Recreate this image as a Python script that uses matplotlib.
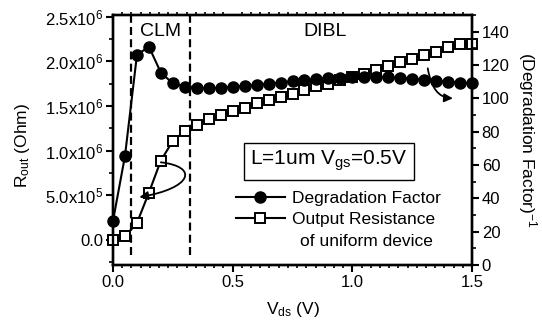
import numpy as np
import matplotlib
matplotlib.use("Agg")
import matplotlib.pyplot as plt
from matplotlib.patches import FancyArrowPatch
from matplotlib.path import Path
from matplotlib.lines import Line2D
from matplotlib.ticker import MultipleLocator

plt.rcParams['font.family'] = ['Liberation Sans', 'DejaVu Sans']
plt.rcParams['mathtext.fontset'] = 'custom'
plt.rcParams['mathtext.rm'] = 'Liberation Sans'
plt.rcParams['mathtext.it'] = 'Liberation Sans:italic'
plt.rcParams['mathtext.bf'] = 'Liberation Sans:bold'

# ---- data ----
vds = [0.0, 0.05, 0.10, 0.15, 0.20, 0.25, 0.30, 0.35, 0.40, 0.45, 0.50,
       0.55, 0.60, 0.65, 0.70, 0.75, 0.80, 0.85, 0.90, 0.95, 1.00,
       1.05, 1.10, 1.15, 1.20, 1.25, 1.30, 1.35, 1.40, 1.45, 1.50]
degradation = [26.5, 65.4, 126.0, 131.0, 115.4, 109.0, 107.0, 106.3, 106.0, 106.2, 106.8,
               107.4, 108.0, 108.8, 109.4, 110.3, 111.0, 111.6, 112.1, 112.4, 112.6,
               112.8, 112.8, 112.6, 112.2, 111.8, 111.2, 110.6, 110.0, 109.5, 109.0]
rout = [0.0, 0.04e6, 0.19e6, 0.53e6, 0.89e6, 1.11e6, 1.22e6, 1.285e6, 1.36e6, 1.40e6, 1.44e6,
        1.48e6, 1.53e6, 1.57e6, 1.60e6, 1.63e6, 1.68e6, 1.72e6, 1.75e6, 1.79e6, 1.83e6,
        1.86e6, 1.90e6, 1.95e6, 1.99e6, 2.03e6, 2.07e6, 2.11e6, 2.16e6, 2.20e6, 2.20e6]
region_bounds = [0.074, 0.322]
left_ticks = [0.0, 0.5e6, 1.0e6, 1.5e6, 2.0e6, 2.5e6]
left_ticklabels = ['0.0',
                   r'5.0x10$^{\mathregular{5}}$',
                   r'1.0x10$^{\mathregular{6}}$',
                   r'1.5x10$^{\mathregular{6}}$',
                   r'2.0x10$^{\mathregular{6}}$',
                   r'2.5x10$^{\mathregular{6}}$']
right_ticks = [0, 20, 40, 60, 80, 100, 120, 140]
x_ticks = [0.0, 0.5, 1.0, 1.5]
x_ticklabels = ['0.0', '0.5', '1.0', '1.5']

W, H = 542, 324
fig = plt.figure(figsize=(W / 100, H / 100), dpi=100)
ax = fig.add_axes([113 / W, 1 - 265 / H, (472 - 113) / W, (265 - 15) / H])
ax2 = ax.twinx()

lw_sp = 1.7
for a in (ax, ax2):
    for s in a.spines.values():
        s.set_linewidth(lw_sp)

ax.set_xlim(0, 1.5)
ax.set_ylim(-2.8e5, 2.52e6)
ax2.set_ylim(0, 150)

# dashed region boundaries
for xb in region_bounds:
    ax.axvline(xb, ymin=0.04, ymax=1, color='black', lw=1.6, ls=(0, (3.6, 1.9)), zorder=1)

# output resistance (squares, left axis)
ax.plot(vds, rout, color='black', lw=1.5, marker='s', ms=7.5, mfc='white',
        mec='black', mew=1.4, zorder=3, clip_on=False)
# degradation factor (filled circles, right axis)
ax2.plot(vds, degradation, color='black', lw=1.5, marker='o', ms=8, mfc='black',
         mec='black', zorder=3, clip_on=False)

# ticks
ax.set_xticks(x_ticks)
ax.set_xticklabels(x_ticklabels)
ax.xaxis.set_minor_locator(MultipleLocator(0.5 / 13))
ax.set_yticks(left_ticks)
ax.set_yticklabels(left_ticklabels)
ax.yaxis.set_minor_locator(MultipleLocator(0.25e6))
ax2.set_yticks(right_ticks)
ax2.yaxis.set_minor_locator(MultipleLocator(10))

ax.tick_params(axis='both', which='major', direction='out', length=5, width=1.5,
               labelsize=12, pad=2)
ax.tick_params(axis='both', which='minor', direction='out', length=3, width=1.2)
ax.tick_params(axis='x', which='minor', top=True, length=2.5)
ax2.tick_params(axis='y', which='major', direction='out', length=5, width=1.5,
                labelsize=12, pad=2)
ax2.tick_params(axis='y', which='minor', direction='out', length=3, width=1.2)

# axis labels
fig.text(22 / W, 1 - 145 / H, r'R$_{\mathregular{out}}$ (Ohm)', rotation=90,
         ha='center', va='center', fontsize=12.5)
fig.text(527 / W, 1 - 140 / H, r'(Degradation Factor)$^{\mathregular{-1}}$', rotation=270,
         ha='center', va='center', fontsize=12.5)
fig.text(293 / W, 1 - 314 / H, r'V$_{\mathregular{ds}}$ (V)', ha='center', va='baseline',
         fontsize=12.5)

# region labels
ax.text(161 / W, 1 - 31 / H, 'CLM', transform=fig.transFigure, ha='center', va='center',
        fontsize=14)
ax.text(325 / W, 1 - 31 / H, 'DIBL', transform=fig.transFigure, ha='center', va='center',
        fontsize=14)

# condition box
ax.text(329 / W, 1 - 161 / H, r'L=1um V$_{\mathregular{gs}}$=0.5V', transform=fig.transFigure,
        ha='center', va='center', fontsize=15,
        bbox=dict(boxstyle='square,pad=0.3', fc='white', ec='black', lw=1.0))

# legend
handles = [Line2D([], [], color='black', lw=1.5, marker='o', ms=8, mfc='black'),
           Line2D([], [], color='black', lw=1.5, marker='s', ms=7.5, mfc='white', mew=1.4)]
leg = fig.legend(handles, ['Degradation Factor', 'Output Resistance'],
                 loc='center left', bbox_to_anchor=(236 / W, 1 - 209 / H),
                 frameon=False, fontsize=12.5, handlelength=2.8, handletextpad=0.4,
                 labelspacing=0.3, borderpad=0, borderaxespad=0)
fig.text(300 / W, 1 - 242 / H, 'of uniform device', ha='left', va='center', fontsize=12.5)

# annotation arrows
p1 = Path([(0.20, 0.87e6), (0.36, 0.82e6), (0.33, 0.58e6), (0.11, 0.48e6)],
          [Path.MOVETO, Path.CURVE4, Path.CURVE4, Path.CURVE4])
ax.add_patch(FancyArrowPatch(path=p1, arrowstyle='-|>,head_length=5,head_width=2.5',
                             color='black', lw=1.3, transform=ax.transData, zorder=4))
p2 = Path([(1.315, 118.0), (1.33, 106.0), (1.36, 100.5), (1.42, 100.0)],
          [Path.MOVETO, Path.CURVE4, Path.CURVE4, Path.CURVE4])
ax2.add_patch(FancyArrowPatch(path=p2, arrowstyle='-|>,head_length=5,head_width=2.5',
                              color='black', lw=1.3, transform=ax2.transData, zorder=4))

fig.savefig('out.png', dpi=100)
